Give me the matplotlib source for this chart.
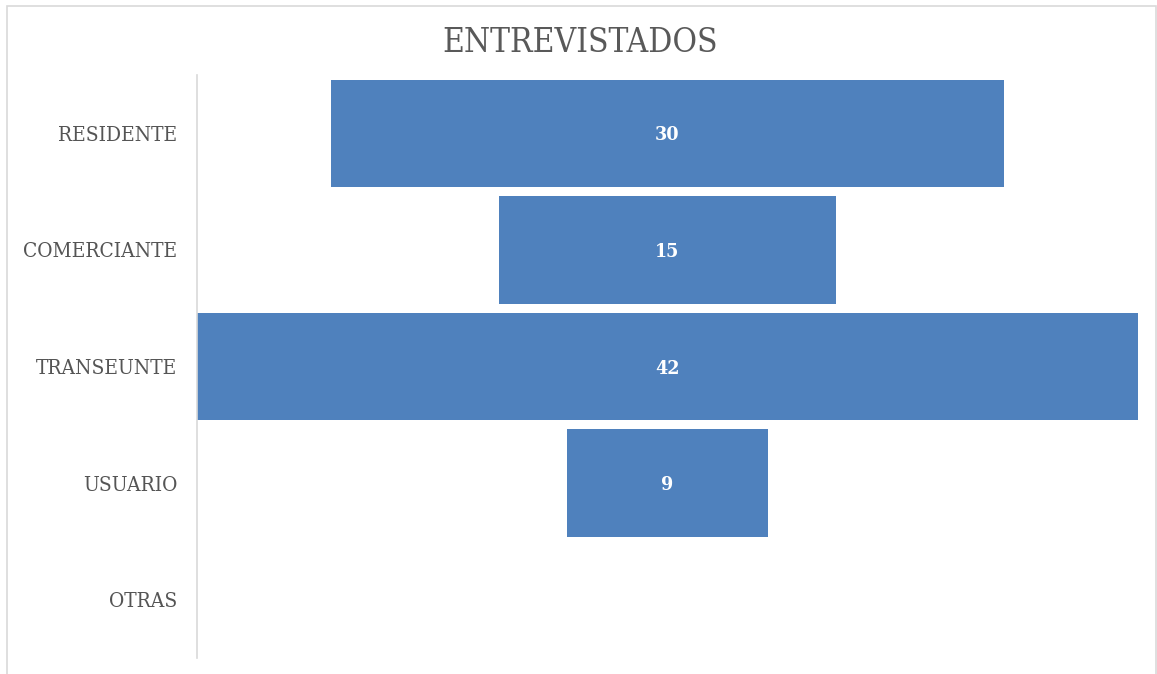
import matplotlib.pyplot as plt
from matplotlib.patches import Rectangle

categorias = ['RESIDENTE', 'COMERCIANTE', 'TRANSEUNTE', 'USUARIO', 'OTRAS']
valores = [30, 15, 42, 9, 0]

W, H = 1157, 674
fig = plt.figure(figsize=(W / 100, H / 100), dpi=100)
fig.patch.set_facecolor('white')

fuente = dict(family='DejaVu Serif', stretch='condensed')

# marco gris del grafico
fig.patches.append(Rectangle((7 / W, -0.01), (1156 - 7) / W, 1 - 6 / H + 0.01,
                             transform=fig.transFigure, fill=False,
                             edgecolor='#D9D9D9', linewidth=1.2))

ax = fig.add_axes([197 / W, 1 - 658 / H, (1138 - 197) / W, (658 - 75) / H])

y = list(range(len(categorias)))
lefts = [-v / 2 for v in valores]
ax.barh(y, valores, left=lefts, height=0.92, color='#4F81BD')

for yi, v in zip(y, valores):
    if v > 0:
        ax.text(0, yi, str(v), ha='center', va='center_baseline', color='white',
                fontsize=14, fontweight='bold', **fuente)

ax.set_xlim(-max(valores) / 2, max(valores) / 2)
ax.set_ylim(len(categorias) - 0.5, -0.5)
ax.set_yticks(y)
ax.set_yticklabels(categorias, fontsize=15, color='#555555', **fuente)
ax.tick_params(axis='y', length=0, pad=14)
ax.set_xticks([])
for s in ['top', 'right', 'bottom']:
    ax.spines[s].set_visible(False)
ax.spines['left'].set_color('#D9D9D9')
ax.spines['left'].set_linewidth(1.2)

fig.text(580 / W, 1 - 43 / H, 'ENTREVISTADOS', ha='center', va='center',
         fontsize=24, color='#595959', **fuente)

fig.savefig('out.png', dpi=100)
